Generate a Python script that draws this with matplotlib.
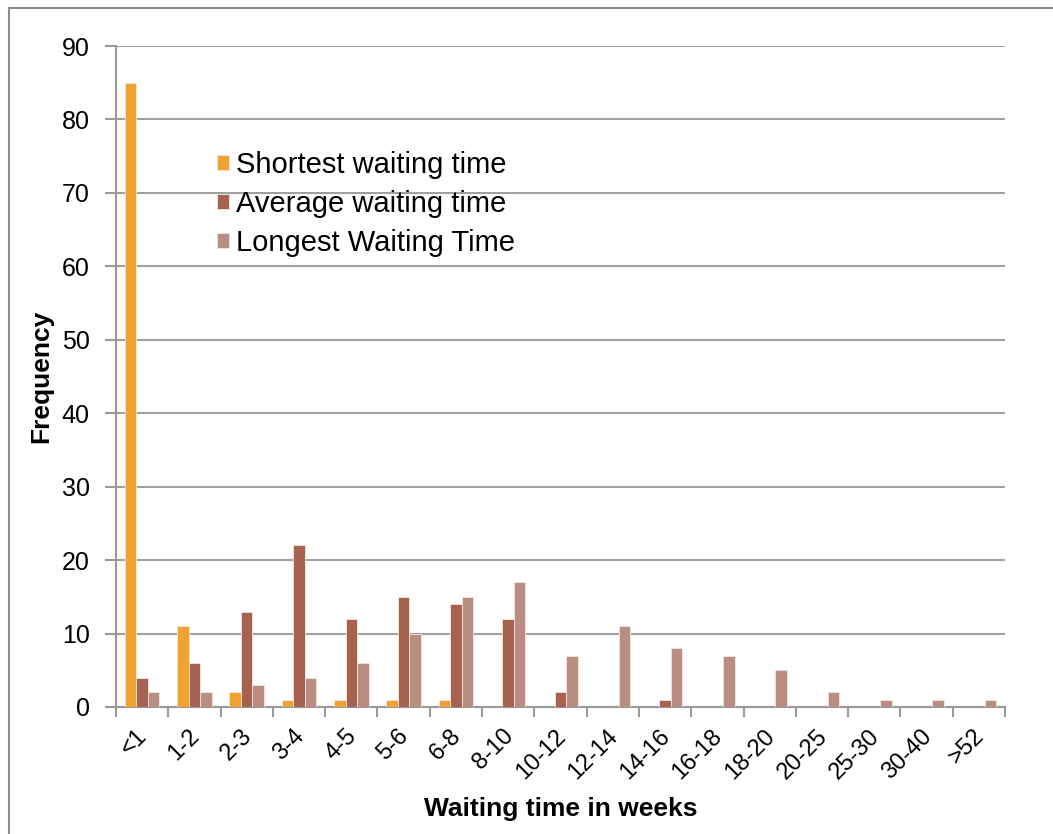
import matplotlib
matplotlib.use("Agg")
import matplotlib.pyplot as plt
import matplotlib.transforms as mtransforms
import numpy as np
from matplotlib.patches import Rectangle

categories = ["<1", "1-2", "2-3", "3-4", "4-5", "5-6", "6-8", "8-10", "10-12", "12-14",
              "14-16", "16-18", "18-20", "20-25", "25-30", "30-40", ">52"]
shortest = [85, 11, 2, 1, 1, 1, 1, 0, 0, 0, 0, 0, 0, 0, 0, 0, 0]
average = [4, 6, 13, 22, 12, 15, 14, 12, 2, 0, 1, 0, 0, 0, 0, 0, 0]
longest = [2, 2, 3, 4, 6, 10, 15, 17, 7, 11, 8, 7, 5, 2, 1, 1, 1]
series_names = ["Shortest waiting time", "Average waiting time", "Longest Waiting Time"]
colors = ["#F0A330", "#A5634F", "#B98D81"]

plt.rcParams['font.family'] = ['Liberation Sans', 'DejaVu Sans']

W, H = 1053, 834
fig = plt.figure(figsize=(W / 100, H / 100), dpi=100)
ax = fig.add_axes([116 / W, 1 - 707 / H, (1005 - 116) / W, (707 - 46) / H])

x = np.arange(len(categories))
bw = 0.22
for i, (vals, name, c) in enumerate(zip([shortest, average, longest], series_names, colors)):
    ax.bar(x + (i - 1) * bw, vals, width=bw, color=c, label=name,
           edgecolor="#F5E6E0", linewidth=0.6, zorder=3)

ax.set_xlim(-0.5, len(categories) - 0.5)
ax.set_ylim(0, 90)
ax.set_yticks(np.arange(0, 91, 10))
ax.yaxis.grid(True, color="#A0A0A0", linewidth=1.5, zorder=0)
ax.set_axisbelow(True)

for s in ["top", "right"]:
    ax.spines[s].set_visible(False)
for s in ["left", "bottom"]:
    ax.spines[s].set_color("#999999")
    ax.spines[s].set_linewidth(1.5)

ax.set_xticks(x)
ax.set_xticklabels(categories, rotation=45, ha="right", rotation_mode="anchor", fontsize=17)
ax.tick_params(axis="x", length=0, pad=13)
offset = mtransforms.ScaledTranslation(-6 / 100, 0, fig.dpi_scale_trans)
for lab in ax.get_xticklabels():
    lab.set_transform(lab.get_transform() + offset)
ax.set_xticks(np.arange(-0.5, len(categories) + 0.5, 1), minor=True)
ax.tick_params(axis="x", which="minor", length=7, width=1.5, color="#999999", direction="out")
ax.tick_params(axis="y", labelsize=18, length=8, width=1.5, color="#999999", pad=11)

ax.set_ylabel("Frequency", fontsize=19, fontweight="bold", labelpad=6)
ax.set_xlabel("Waiting time in weeks", fontsize=19, fontweight="bold", labelpad=10)

leg = ax.legend(loc="upper left", bbox_to_anchor=((202 - 116) / (1005 - 116), 1 - (136 - 46) / (707 - 46)),
                frameon=False, fontsize=21, handlelength=0.43, handleheight=0.43,
                handletextpad=0.25, labelspacing=0.38, borderpad=0)

fig.patches.append(Rectangle((9 / W, -0.1), 1.2, 1.1 - 8 / H, transform=fig.transFigure,
                             fill=False, edgecolor="#8C8C8C", linewidth=1.5, zorder=0))

fig.savefig("out.png", dpi=100)
